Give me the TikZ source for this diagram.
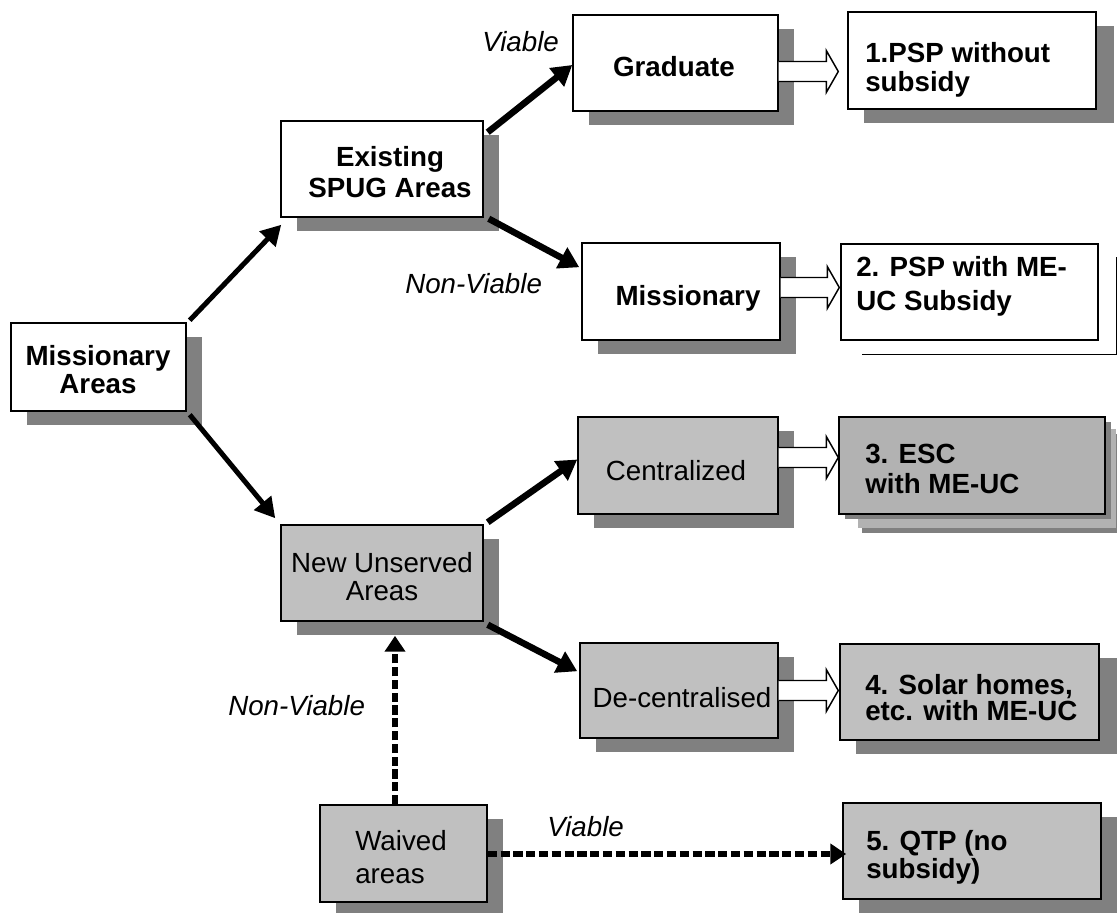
\documentclass[tikz,border=0pt]{standalone}
\usepackage{fontspec}
\setmainfont{Liberation Sans}
\usetikzlibrary{arrows.meta,fit,shadows,backgrounds}
\definecolor{shgray}{HTML}{808080}
\definecolor{lgray}{HTML}{C0C0C0}
\definecolor{mgray}{HTML}{B2B2B2}
\newcommand{\twoc}[3]{\vtop{\baselineskip=#1\halign{\hfil##\hfil\cr #2\cr #3\cr}}}
\newcommand{\twol}[3]{\vtop{\baselineskip=#1\halign{##\hfil\cr #2\cr #3\cr}}}
\newcommand{\harrow}[4]{%
  \path ([shift={(0,#3)}]#1.east) coordinate (hA) (#2.west |- hA) coordinate (hB0)
        ([shift={(-#4,0)}]hB0) coordinate (hB);
  \draw[hol] ([shift={(0,-10)}]hA) -- ([shift={(-12,-10)}]hB) -- ([shift={(-12,-21)}]hB)
     -- (hB) -- ([shift={(-12,21)}]hB) -- ([shift={(-12,10)}]hB) -- ([shift={(0,10)}]hA);}
\begin{document}
\begin{tikzpicture}[x=0.75pt,y=-0.75pt,
  box/.style={draw=black, line width=1.1pt, inner sep=0pt},
  shd/.style={drop shadow={shadow xshift=#1, shadow yshift=-10.5pt, opacity=1, fill=shgray}},
  shd/.default=12pt,
  wbox/.style={box, fill=white, shd},
  gbox/.style={box, fill=lgray, shd},
  txt/.style={inner sep=0pt, font=\fontsize{20.8}{23}\selectfont},
  btxt/.style={txt, font=\fontsize{20.8}{23}\selectfont\bfseries},
  itxt/.style={txt, font=\fontsize{20.8}{23}\selectfont\itshape},
  arr/.style={line width=3.75pt, -{Triangle[length=15pt,width=16pt]}},
  arrb/.style={line width=4.9pt, -{Triangle[length=15pt,width=17pt]}},
  darr/.style={line width=4.5pt, dash pattern=on 7pt off 2.6pt, -{Triangle[length=12pt,width=15pt]}},
  hol/.style={draw=black, fill=white, line width=1.1pt, line join=miter}]
\useasboundingbox (0,0) rectangle (1117,913);

% boxes
\node[wbox, fit={(11,323) (186,411)}] (ma) {};
\node[wbox, fit={(281,121) (483,217)}] (esa) {};
\node[wbox, fit={(573,15) (778,111)}] (grad) {};
\node[wbox, shd=13.5pt, fit={(848,12) (1096,109)}] (psp1) {};
\node[wbox, fit={(582,243) (780,340)}] (miss) {};
\node[box, fill=white, fit={(841,244) (1098,340)}] (psp2) {};
\node[gbox, fit={(281,525) (483,621)}] (nua) {};
\node[gbox, fit={(578,417) (778,514)}] (cen) {};
\node[box, fill=mgray, drop shadow={shadow xshift=4.5pt, shadow yshift=-3.75pt, opacity=1, fill=shgray}, fit={(839,417) (1105,514)}] (esc) {};
\node[gbox, fit={(580,643) (778,738)}] (dec) {};
\node[gbox, shd=14.25pt, fit={(840,644) (1099,740)}] (solar) {};
\node[gbox, fit={(320,805) (487,902)}] (wav) {};
\node[gbox, shd=14.25pt, fit={(843,803) (1101,899)}] (qtp) {};

% extra shadow layers
\begin{scope}[on background layer]
  \fill[shgray] ([shift={(24,18)}]esc.north west) rectangle ([shift={(15,18)}]esc.south east);
  \fill[mgray] ([shift={(20,13)}]esc.north west) rectangle ([shift={(10,13)}]esc.south east);
\end{scope}
\draw[line width=0.8pt] ([shift={(22,14)}]psp2.south west) -- ([shift={(18,14)}]psp2.south east) -- ([shift={(18,14)}]psp2.north east);

% texts
\node[btxt, anchor=base] (tma) at (98,365) {\twoc{21.2pt}{Missionary}{Areas}};
\node[btxt, anchor=base] (tesa) at (390,166.7) {\twoc{23pt}{Existing}{SPUG Areas}};
\node[btxt, anchor=base] (tgrad) at (674,76.5) {Graduate};
\node[btxt, anchor=base west] (tpsp1) at (865,63) {\twol{21.5pt}{1.PSP without}{subsidy}};
\node[btxt, anchor=base] (tmiss) at (688,305) {Missionary};
\node[btxt, anchor=base west] (tpsp2) at (856,276.7) {\twol{25pt}{2. PSP with ME-}{UC Subsidy}};
\node[txt, anchor=base] (tnua) at (382,572) {\twoc{21pt}{New Unserved}{Areas}};
\node[txt, anchor=base] (tcen) at (676,480) {Centralized};
\node[btxt, anchor=base west] (tesc) at (865,463.3) {\twol{23pt}{3. ESC}{with ME-UC}};
\node[txt, anchor=base] (tdec) at (682,707) {De-centralised};
\node[btxt, anchor=base west] (tsolar) at (865,694) {\twol{20pt}{4. Solar homes,}{etc. with ME-UC}};
\node[txt, anchor=base west] (twav) at (355,850) {\twol{24.75pt}{Waived}{areas}};
\node[btxt, anchor=base west] (tqtp) at (866,850.7) {\twol{21pt}{5. QTP (no}{subsidy)}};

% labels
\node[itxt, anchor=base west] (lv1) at (482,51.7) {Viable};
\node[itxt, anchor=base west] (lnv1) at (405,293.3) {Non-Viable};
\node[itxt, anchor=base west] (lnv2) at (228,715) {Non-Viable};
\node[itxt, anchor=base west] (lv2) at (547,836.7) {Viable};

% connectors
\draw[arr] ([shift={(3,-2)}]ma.north east) -- ([shift={(1,7)}]esa.south west);
\draw[arr] ([shift={(3,3)}]ma.south east) -- ([shift={(-5,-6)}]nua.north west);
\draw[arrb] ([shift={(4,12)}]esa.north east) -- ([shift={(0,2)}]grad.west);
\draw[arrb] ([shift={(5,1)}]esa.south east) -- ([shift={(-2,25)}]miss.north west);
\draw[arrb] ([shift={(4,-2)}]nua.north east) -- ([shift={(0,-6)}]cen.west);
\draw[arrb] ([shift={(4,3)}]nua.south east) -- ([shift={(-2,29)}]dec.north west);
\draw[darr] ([shift={(-8.5,0)}]wav.north) -- ([shift={(13,14)}]nua.south);
\draw[darr] ([shift={(0,0.5)}]wav.east) -- ([shift={(4,3)}]qtp.west);

% hollow arrows
\harrow{grad}{psp1}{8.5}{9}
\harrow{miss}{psp2}{-4}{1}
\harrow{cen}{esc}{-8}{0}
\harrow{dec}{solar}{0}{1}
\end{tikzpicture}
\end{document}
